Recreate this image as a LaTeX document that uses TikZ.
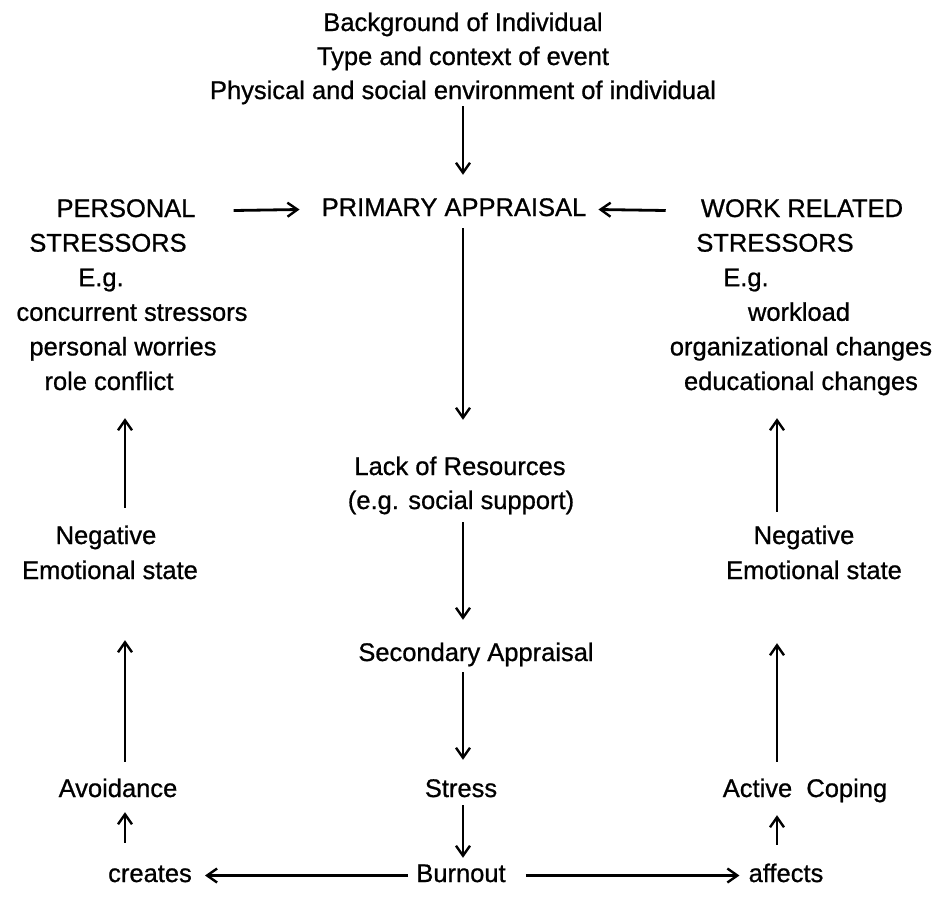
\documentclass[tikz,border=0pt]{standalone}
\usepackage{fontspec}
\setmainfont[FakeBold=0.8]{Liberation Sans}
\usetikzlibrary{arrows.meta}
\begin{document}
\begin{tikzpicture}[x=1pt,y=-1pt,
  txt/.style={inner sep=0pt, anchor=base, text height=19pt, text depth=6pt,
              font=\fontsize{25.5pt}{30pt}\selectfont},
  flow/.style={line width=2.8pt, -{Straight Barb[length=10pt,width=14pt,line width=2.4pt]}}]
\path[use as bounding box] (0,0) rectangle (937,908);

% column axes for the vertical connectors
\coordinate (lx) at (125,0);
\coordinate (cx) at (463,0);
\coordinate (rx) at (777,0);

% antecedents
\node[txt] (bg)   at (463,31) {Background of Individual};
\node[txt] (type) at (463,65) {Type and context of event};
\node[txt] (phys) at (463,99) {Physical and social environment of individual};

% central chain
\node[txt] (prim)  at (454,216) {PRIMARY APPRAISAL};
\node[txt] (lack)  at (460,475) {Lack of Resources};
\node[txt] (egs)   at (461,509) {(e.g. social support)};
\node[txt] (sec)   at (476,661) {Secondary Appraisal};
\node[txt] (stress) at (461,797) {Stress};
\node[txt] (burn)  at (461,882) {Burnout};

% personal stressors
\node[txt] (pers)  at (126,217) {PERSONAL};
\node[txt] (pstr)  at (108,251.6) {STRESSORS};
\node[txt] (peg)   at (101,286.2) {E.g.};
\node[txt] (conc)  at (132,320.8) {concurrent stressors};
\node[txt] (worry) at (123,355.4) {personal worries};
\node[txt] (role)  at (109,390) {role conflict};

% work related stressors
\node[txt] (work)  at (802,217) {WORK RELATED};
\node[txt] (wstr)  at (775,251.6) {STRESSORS};
\node[txt] (weg)   at (746,286.2) {E.g.};
\node[txt] (wload) at (799,320.8) {workload};
\node[txt] (org)   at (801,355.4) {organizational changes};
\node[txt] (edu)   at (801,390) {educational changes};

% left branch
\node[txt] (negl)  at (106,544) {Negative};
\node[txt] (emol)  at (110,579) {Emotional state};
\node[txt] (avoid) at (118,797) {Avoidance};
\node[txt] (creat) at (150,882) {creates};

% right branch
\node[txt] (negr)  at (804,544) {Negative};
\node[txt] (emor)  at (814,579) {Emotional state};
\node[txt] (cope)  at (805,797) {Active\ \ Coping};
\node[txt] (aff)   at (786,882) {affects};

% central connectors
\draw[flow] ([yshift=-1pt]phys.south -| cx) -- ([yshift=22pt]prim.north -| cx);
\draw[flow] ([yshift=-6pt]prim.south -| cx) -- ([yshift=36pt]lack.north -| cx);
\draw[flow] ([yshift=-7pt]egs.south -| cx) -- ([yshift=22pt]sec.north -| cx);
\draw[flow] ([yshift=-5pt]sec.south -| cx) -- ([yshift=18pt]stress.north -| cx);
\draw[flow] ([yshift=-2pt]stress.south -| cx) -- ([yshift=5pt]burn.north -| cx);

% stressors feeding the primary appraisal
\draw[flow] ([xshift=38pt]pers.east) -- ([xshift=-22pt]prim.west);
\draw[flow] ([xshift=-35pt]work.west) -- ([xshift=12pt]prim.east);

% burnout outcomes
\draw[flow] ([xshift=-8pt]burn.west) -- ([xshift=13pt]creat.east);
\draw[flow] ([xshift=20pt]burn.east) -- ([xshift=-9pt]aff.west);

% left feedback loop
\draw[flow] ([yshift=20pt]creat.north -| lx) -- ([yshift=-9pt]avoid.south -| lx);
\draw[flow] ([yshift=16pt]avoid.north -| lx) -- ([yshift=-55pt]emol.south -| lx);
\draw[flow] ([yshift=17pt]negl.north -| lx) -- ([yshift=-22pt]role.south -| lx);

% right feedback loop
\draw[flow] ([yshift=18pt]aff.north -| rx) -- ([yshift=-12pt]cope.south -| rx);
\draw[flow] ([yshift=16pt]cope.north -| rx) -- ([yshift=-58pt]emor.south -| rx);
\draw[flow] ([yshift=13pt]negr.north -| rx) -- ([yshift=-22pt]edu.south -| rx);
\end{tikzpicture}
\end{document}
